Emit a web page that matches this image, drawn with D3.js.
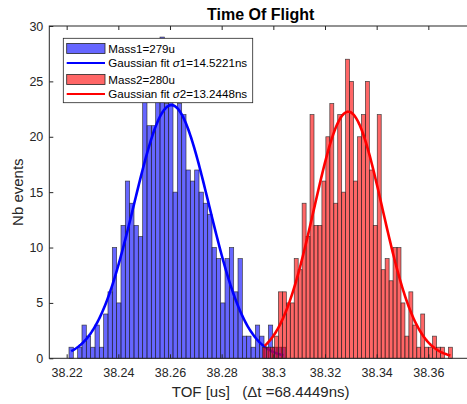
<!doctype html>
<html>

<head>
    <meta charset="utf-8">
    <title>Time Of Flight</title>
    <script src="https://d3js.org/d3.v7.min.js"></script>
</head>

<style>
    body { margin: 0; background: #fff; }
    text { font-family: 'Liberation Sans', Arial, sans-serif; fill: #262626; }
    .tick text { font-size: 12.5px; }
    .label { font-size: 15px; }
    .title { font-size: 16px; font-weight: bold; fill: #000; }
    .legend text { font-size: 11.6px; fill: #000; }
</style>

<body>

    <script>

    // histogram counts
    var mass1Counts = [1, 0, 1, 3, 2, 1, 3, 1, 4, 6, 10, 5, 12, 16, 14, 12, 11, 24, 21, 21,
                       25, 29, 23, 24, 15, 23, 22, 17, 16, 17, 15, 14, 13, 10, 9, 5, 9, 10, 6, 9,
                       2, 2, 1, 3, 2, 1, 3, 1, 1, 1];
    var mass2Counts = [1, 1, 1, 2, 6, 6, 5, 5, 9, 8, 14, 11, 22, 12, 12, 16, 20, 23, 14, 22,
                       15, 27, 25, 16, 20, 22, 25, 17, 12, 22, 8, 9, 7, 10, 10, 5, 2, 6, 3, 1,
                       4, 1, 1, 2, 1, 1, 0, 1];

    // bin layout (us)
    var mass1Start = 38.2209;
    var mass1BinWidth = 0.0016776;
    var mass2Start = 38.29585;
    var mass2BinWidth = 0.0015302;

    // gaussian fits (us)
    var fitMeans = [38.26055, 38.329];
    var fitSigmas = [0.0145221, 0.0132448];

    var legendLabels = ['Mass1=279u', 'Gaussian fit ', 'Mass2=280u', 'Gaussian fit '];
    var legendSigma = ['1=14.5221ns', '2=13.2448ns'];

    var xTicks = [38.22, 38.24, 38.26, 38.28, 38.3, 38.32, 38.34, 38.36];
    var yTicks = [0, 5, 10, 15, 20, 25, 30];
    var xDomain = [38.21328, 38.3769];
    var yDomain = [0, 30];

    var width = 467;
    var height = 404;
    var plotLeft = 49.3, plotRight = 472, plotTop = 26, plotBottom = 358.3;

    var svg = d3.select('body')
                .append('svg')
                .attr('width', width)
                .attr('height', height);

    var xScale = d3.scaleLinear().domain(xDomain).range([plotLeft, plotRight]);
    var yScale = d3.scaleLinear().domain(yDomain).range([plotBottom, plotTop]);

    function binData(counts, start, bw) {
        return counts.map(function(c, i) {
            return { x0: start + i * bw, x1: start + (i + 1) * bw, n: c };
        });
    }

    function fitData(counts, start, bw, mu, sigma) {
        var total = d3.sum(counts);
        var amp = total * bw / (sigma * Math.sqrt(2 * Math.PI));
        var a = start + bw / 2, b = start + (counts.length - 0.5) * bw;
        return d3.range(0, 201).map(function(k) {
            var x = a + (b - a) * k / 200;
            return { x: x, y: amp * Math.exp(-(x - mu) * (x - mu) / (2 * sigma * sigma)) };
        });
    }

    var line = d3.line()
                 .x(function(d) { return xScale(d.x); })
                 .y(function(d) { return yScale(d.y); });

    function drawBars(data, color) {
        svg.append('g')
           .selectAll('rect')
           .data(data.filter(function(d) { return d.n > 0; }))
           .enter()
           .append('rect')
           .attr('x', function(d) { return xScale(d.x0); })
           .attr('y', function(d) { return yScale(d.n); })
           .attr('width', function(d) { return xScale(d.x1) - xScale(d.x0); })
           .attr('height', function(d) { return yScale(0) - yScale(d.n); })
           .attr('fill', color)
           .attr('fill-opacity', 0.6)
           .attr('stroke', '#262626')
           .attr('stroke-opacity', 0.85)
           .attr('stroke-width', 0.7);
    }

    function drawFit(data, color) {
        svg.append('path')
           .datum(data)
           .attr('d', line)
           .attr('fill', 'none')
           .attr('stroke', color)
           .attr('stroke-width', 2.6);
    }

    // blue then red, red bars sit over the blue fit
    drawBars(binData(mass1Counts, mass1Start, mass1BinWidth), '#0000ff');
    drawFit(fitData(mass1Counts, mass1Start, mass1BinWidth, fitMeans[0], fitSigmas[0]), '#0000ff');
    drawBars(binData(mass2Counts, mass2Start, mass2BinWidth), '#ff0000');
    drawFit(fitData(mass2Counts, mass2Start, mass2BinWidth, fitMeans[1], fitSigmas[1]), '#ff0000');

    // axes, ticks pointing inward
    var xAxis = d3.axisBottom(xScale)
                  .tickValues(xTicks)
                  .tickFormat(d3.format('~g'))
                  .tickSizeInner(-4)
                  .tickSizeOuter(0)
                  .tickPadding(10);
    var xAxisTop = d3.axisTop(xScale)
                  .tickValues(xTicks)
                  .tickFormat('')
                  .tickSizeInner(-4)
                  .tickSizeOuter(0);
    var yAxis = d3.axisLeft(yScale)
                  .tickValues(yTicks)
                  .tickSizeInner(-4)
                  .tickSizeOuter(0)
                  .tickPadding(6);

    [[xAxis, 'translate(0,' + plotBottom + ')'], [xAxisTop, 'translate(0,' + plotTop + ')'], [yAxis, 'translate(' + plotLeft + ',0)']]
        .forEach(function(a) {
            var g = svg.append('g').attr('transform', a[1]).call(a[0]);
            g.select('.domain').remove();
            g.selectAll('.tick line').attr('stroke', '#262626');
            g.selectAll('.tick text').attr('fill', '#262626').style('font-family', "'Liberation Sans', Arial, sans-serif");
        });

    svg.append('rect')
       .attr('x', plotLeft)
       .attr('y', plotTop)
       .attr('width', plotRight - plotLeft)
       .attr('height', plotBottom - plotTop)
       .attr('fill', 'none')
       .attr('stroke', '#262626')
       .attr('stroke-width', 1);

    // title and labels
    svg.append('text')
       .attr('class', 'title')
       .attr('x', (plotLeft + plotRight) / 2)
       .attr('y', 20)
       .attr('text-anchor', 'middle')
       .text('Time Of Flight');

    svg.append('text')
       .attr('class', 'label')
       .attr('x', (plotLeft + plotRight) / 2)
       .attr('y', 397)
       .attr('text-anchor', 'middle')
       .style('white-space', 'pre')
       .text('TOF [us]   (\u0394t =68.4449ns)');

    svg.append('text')
       .attr('class', 'label')
       .attr('transform', 'translate(22.5,' + (plotTop + plotBottom) / 2 + ') rotate(-90)')
       .attr('text-anchor', 'middle')
       .text('Nb events');

    // legend
    var legend = svg.append('g').attr('class', 'legend').attr('transform', 'translate(63.3,38.3)');
    legend.append('rect')
          .attr('width', 189.4)
          .attr('height', 64.4)
          .attr('fill', '#fff')
          .attr('stroke', '#262626')
          .attr('stroke-width', 0.8);

    var rowY = [10.2, 24.6, 41.2, 55.7];
    var swatchColors = ['#0000ff', '#0000ff', '#ff0000', '#ff0000'];
    rowY.forEach(function(ry, i) {
        if (i % 2 === 0) {
            legend.append('rect')
                  .attr('x', 3.4).attr('y', ry - 5)
                  .attr('width', 38.3).attr('height', 10)
                  .attr('fill', swatchColors[i]).attr('fill-opacity', 0.6)
                  .attr('stroke', '#262626').attr('stroke-width', 0.8);
        } else {
            legend.append('line')
                  .attr('x1', 3.4).attr('x2', 41.7)
                  .attr('y1', ry).attr('y2', ry)
                  .attr('stroke', swatchColors[i]).attr('stroke-width', 2);
        }
        var t = legend.append('text')
                      .attr('x', 45)
                      .attr('y', ry + 4.2)
                      .text(legendLabels[i]);
        if (i % 2 === 1) {
            t.append('tspan').style('font-style', 'italic').text('\u03c3');
            t.append('tspan').text(legendSigma[(i - 1) / 2]);
        }
    });

    </script>

</body>

</html>
